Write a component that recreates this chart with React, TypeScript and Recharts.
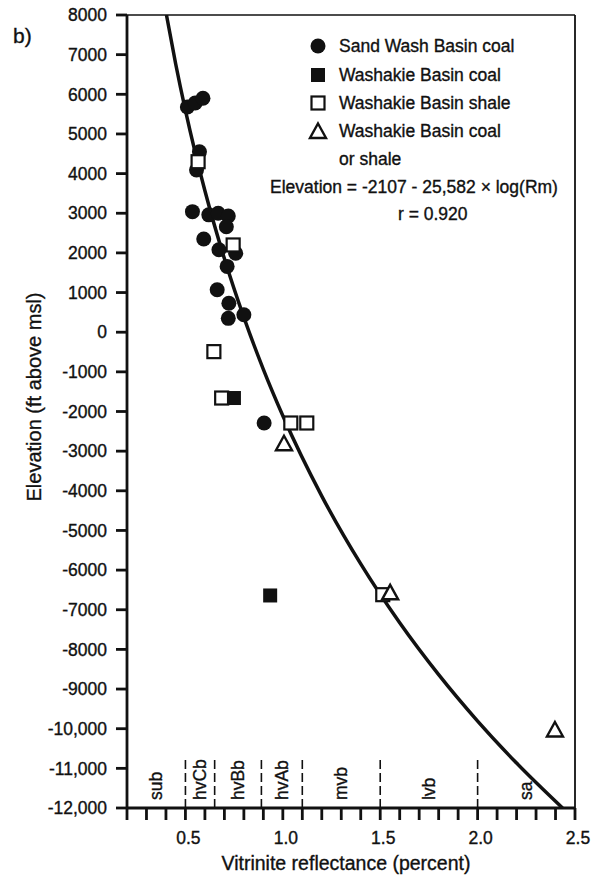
import { ComposedChart, Line, Scatter, XAxis, YAxis, ReferenceLine, Legend } from 'recharts'

// regression curve (Rm %, elevation ft)
const curveRm = [0.4026, 0.45, 0.5, 0.55, 0.6, 0.7, 0.8, 0.9, 1.0, 1.2, 1.4, 1.6, 1.8, 2.0, 2.2, 2.436]
const curveElev = [8000, 6765, 5594, 4535, 3568, 1856, 372, -936, -2107, -4133, -5845, -7329, -8637, -9808, -10867, -12000]

const sandWashRm = [0.51, 0.55, 0.59, 0.572, 0.557, 0.536, 0.62, 0.668, 0.72, 0.71, 0.594, 0.672, 0.758, 0.714, 0.663, 0.723, 0.72, 0.8, 0.904]
const sandWashElev = [5680, 5780, 5900, 4550, 4090, 3040, 2960, 3000, 2930, 2660, 2350, 2080, 1990, 1660, 1070, 730, 350, 440, -2290]

const washCoalRm = [0.749, 0.935]
const washCoalElev = [-1660, -6640]

const washShaleRm = [0.565, 0.745, 0.646, 0.686, 1.041, 1.123, 1.513]
const washShaleElev = [4300, 2200, -490, -1660, -2290, -2290, -6620]

const washEitherRm = [1.006, 1.551, 2.397]
const washEitherElev = [-2800, -6560, -10020]

const rankNames = ['sub', 'hvCb', 'hvBb', 'hvAb', 'mvb', 'lvb', 'sa']
const rankMid = [0.35, 0.575, 0.77, 0.995, 1.3, 1.75, 2.25]
const rankBounds = [0.5, 0.65, 0.89, 1.1, 1.5, 2.0]

const xTicks = [0.2, 0.3, 0.4, 0.5, 0.6, 0.7, 0.8, 0.9, 1.0, 1.1, 1.2, 1.3, 1.4, 1.5, 1.6, 1.7, 1.8, 1.9, 2.0, 2.1, 2.2, 2.3, 2.4, 2.5]
const xLabelTicks = [0.5, 1.0, 1.5, 2.0, 2.5]
const xLabelText = ['0.5', '1.0', '1.5', '2.0', '2.5']

const yTicks = [8000, 7000, 6000, 5000, 4000, 3000, 2000, 1000, 0, -1000, -2000, -3000, -4000, -5000, -6000, -7000, -8000, -9000, -10000, -11000, -12000]
const yTickText = ['8000', '7000', '6000', '5000', '4000', '3000', '2000', '1000', '0', '-1000', '-2000', '-3000', '-4000', '-5000', '-6000', '-7000', '-8000', '-9000', '-10,000', '-11,000', '-12,000']

const legendNames = ['Sand Wash Basin coal', 'Washakie Basin coal', 'Washakie Basin shale', 'Washakie Basin coal']

const toPts = (xs: number[], ys: number[]) => xs.map((x, i) => ({ x, y: ys[i] }))

const FONT = '"Liberation Sans", Arial, Helvetica, sans-serif'
const INK = '#111'

function Dot({ cx, cy }: any) {
  return <circle cx={cx} cy={cy} r={7.5} fill={INK} />
}
function FilledSquare({ cx, cy }: any) {
  return <rect x={cx - 7} y={cy - 7} width={14} height={14} fill={INK} />
}
function OpenSquare({ cx, cy }: any) {
  return <rect x={cx - 6.5} y={cy - 6.5} width={13} height={13} fill="#fff" stroke={INK} strokeWidth={2.2} />
}
function Triangle({ cx, cy }: any) {
  return (
    <path
      d={`M${cx},${cy - 7.5} L${cx + 8},${cy + 7} L${cx - 8},${cy + 7} Z`}
      fill="#fff"
      stroke={INK}
      strokeWidth={2.4}
    />
  )
}
function RankText({ cx, cy, payload }: any) {
  return (
    <text
      x={cx}
      y={cy}
      transform={`rotate(-90 ${cx} ${cy})`}
      dominantBaseline="central"
      fontFamily={FONT}
      fontSize={17.5}
      fill={INK}
      stroke={INK}
      strokeWidth={0.35}
    >
      {payload.name}
    </text>
  )
}

const markers = [Dot, FilledSquare, OpenSquare, Triangle]

function LegendBox() {
  const rows = [46, 75, 103, 131]
  return (
    <div style={{ position: 'relative', width: 300, height: 200, fontFamily: FONT, color: INK, fontSize: 17.5, WebkitTextStroke: '0.35px #111' }}>
      {legendNames.map((name, i) => {
        const M = markers[i]
        return (
          <div key={i} style={{ position: 'absolute', left: 0, top: rows[i] - 30 - 12, height: 24, display: 'flex', alignItems: 'center', whiteSpace: 'nowrap' }}>
            <svg width={24} height={24} style={{ marginLeft: 1 }}>
              <M cx={12} cy={12} />
            </svg>
            <span style={{ marginLeft: 9 }}>{name}</span>
          </div>
        )
      })}
      <div style={{ position: 'absolute', left: 34, top: 159 - 30 - 12, lineHeight: '24px' }}>or shale</div>
      <div style={{ position: 'absolute', left: -35, top: 187 - 30 - 12, lineHeight: '24px', whiteSpace: 'nowrap' }}>
        Elevation = -2107 - 25,582 × log(Rm)
      </div>
      <div style={{ position: 'absolute', left: 93, top: 214 - 30 - 12, lineHeight: '24px', whiteSpace: 'nowrap' }}>r = 0.920</div>
    </div>
  )
}

function XTick({ x, y, payload }: any) {
  const k = xLabelTicks.findIndex((v) => Math.abs(v - payload.value) < 1e-6)
  if (k < 0) return null
  return (
    <text x={x + 3} y={y + 9} textAnchor="middle" dominantBaseline="hanging" fontFamily={FONT} fontSize={17.5} fill={INK} stroke={INK} strokeWidth={0.35}>
      {xLabelText[k]}
    </text>
  )
}

export default function App() {
  const curve = toPts(curveRm, curveElev)
  const rankPts = rankNames.map((name, i) => ({ x: rankMid[i], y: -11800, name }))
  return (
    <div style={{ position: 'absolute', left: 0, top: 0, width: 602, height: 878, background: '#fff' }}>
      <div style={{ position: 'absolute', left: 13, top: 24, fontFamily: FONT, fontSize: 21, color: INK, WebkitTextStroke: '0.35px #111' }}>b)</div>
      <ComposedChart width={602} height={878} margin={{ top: 15, right: 27, bottom: 30, left: 0 }}>
        <XAxis
          dataKey="x"
          type="number"
          domain={[0.2, 2.5]}
          ticks={xTicks}
          interval={0}
          allowDataOverflow
          height={40}
          stroke={INK}
          strokeWidth={2.8}
          tickSize={12}
          tick={<XTick />}
          label={{
            content: () => (
              <text x={346} y={863} textAnchor="middle" dominantBaseline="central" fontFamily={FONT} fontSize={19.5} fill={INK} stroke={INK} strokeWidth={0.35}>
                Vitrinite reflectance (percent)
              </text>
            ),
          }}
        />
        <YAxis
          dataKey="y"
          type="number"
          domain={[-12000, 8000]}
          ticks={yTicks}
          interval={0}
          allowDataOverflow
          width={127}
          stroke={INK}
          strokeWidth={2.8}
          tickSize={11}
          tickMargin={9}
          tick={{ fontFamily: FONT, fontSize: 17.5, fill: INK, stroke: INK, strokeWidth: 0.35 }}
          tickFormatter={(v: number) => yTickText[yTicks.indexOf(v)]}
          label={{
            content: () => (
              <text
                x={34}
                y={397}
                transform="rotate(-90 34 397)"
                textAnchor="middle"
                dominantBaseline="central"
                fontFamily={FONT}
                fontSize={20}
                fill={INK}
                stroke={INK}
                strokeWidth={0.35}
              >
                Elevation (ft above msl)
              </text>
            ),
          }}
        />
        <ReferenceLine y={8000} stroke={INK} strokeWidth={1.6} />
        <ReferenceLine x={2.5} stroke={INK} strokeWidth={1.8} />
        {rankBounds.map((b) => (
          <ReferenceLine
            key={b}
            segment={[
              { x: b, y: -12000 },
              { x: b, y: -10700 },
            ]}
            stroke={INK}
            strokeWidth={1.6}
            strokeDasharray="9 4"
          />
        ))}
        <Line
          data={curve}
          dataKey="y"
          type="monotone"
          stroke={INK}
          strokeWidth={3.5}
          dot={false}
          isAnimationActive={false}
        />
        <Scatter data={rankPts} dataKey="y" shape={<RankText />} isAnimationActive={false} legendType="none" />
        <Scatter name="Sand Wash Basin coal" data={toPts(sandWashRm, sandWashElev)} dataKey="y" shape={<Dot />} isAnimationActive={false} />
        <Scatter name="Washakie Basin shale" data={toPts(washShaleRm, washShaleElev)} dataKey="y" shape={<OpenSquare />} isAnimationActive={false} />
        <Scatter name="Washakie Basin coal" data={toPts(washCoalRm, washCoalElev)} dataKey="y" shape={<FilledSquare />} isAnimationActive={false} />
        <Scatter name="Washakie Basin coal or shale" data={toPts(washEitherRm, washEitherElev)} dataKey="y" shape={<Triangle />} isAnimationActive={false} />
        <Legend
          layout="vertical"
          align="center"
          verticalAlign="middle"
          content={() => <LegendBox />}
          wrapperStyle={{ position: 'absolute', left: 305, top: 30, width: 300, height: 200 }}
        />
      </ComposedChart>
    </div>
  )
}
